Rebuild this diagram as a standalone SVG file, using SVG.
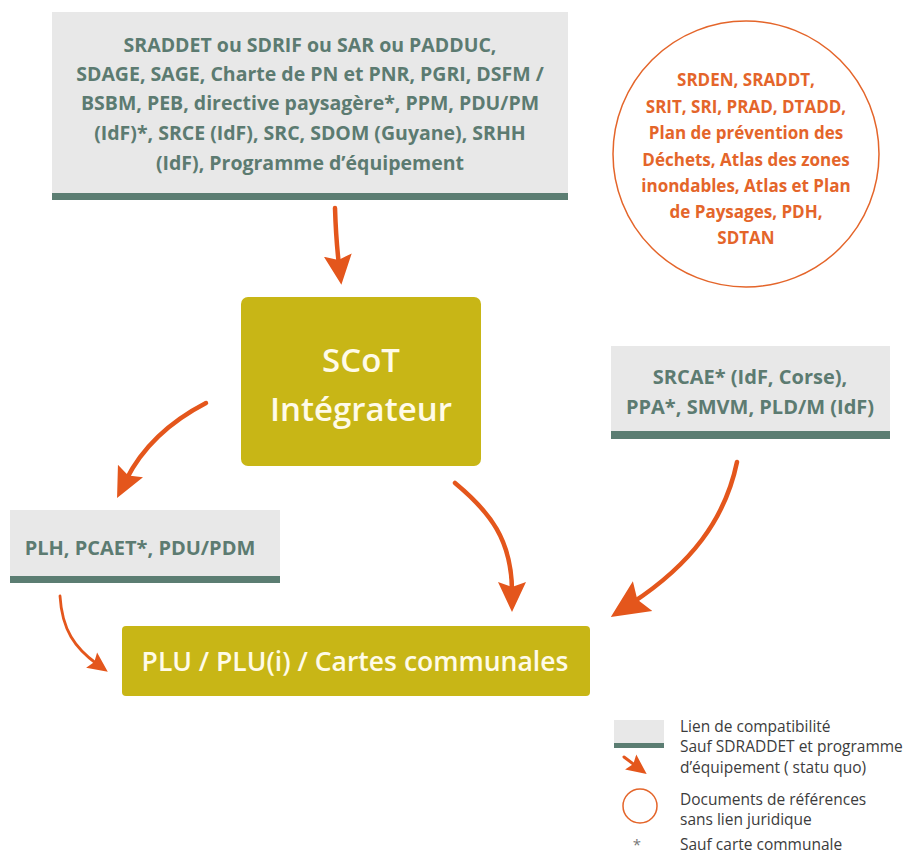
<svg xmlns="http://www.w3.org/2000/svg" width="911" height="859" viewBox="0 0 911 859">
<style>
.gbox{fill:#e8e8e8}
.bar{fill:#5b7d72}
.gt{font-family:"Open Sans","Liberation Sans",sans-serif;font-weight:700;fill:#5c7b71;text-anchor:middle}
.ot{font-family:"Open Sans","Liberation Sans",sans-serif;font-weight:700;fill:#e4652a;text-anchor:middle;font-size:17px}
.ybox{fill:#c8b616}
.wt{font-family:"Open Sans","Liberation Sans",sans-serif;font-weight:600;fill:#fffbe8;text-anchor:middle}
.arr{fill:none;stroke:#e4561c;stroke-width:4.5;stroke-linecap:round}
.lt{font-family:"Open Sans","Liberation Sans",sans-serif;font-size:15.5px;fill:#3c3c3c}
</style>
<defs>
<marker id="head" viewBox="0 0 30 30" refX="10" refY="15" markerWidth="30" markerHeight="30" markerUnits="userSpaceOnUse" orient="auto">
<path d="M0,1 L30,15 L0,29 L5,15 z" fill="#e4561c"/>
</marker>
<marker id="headL" viewBox="0 0 30 30" refX="10" refY="15" markerWidth="38" markerHeight="38" markerUnits="userSpaceOnUse" orient="auto">
<path d="M0,1 L30,15 L0,29 L5,15 z" fill="#e4561c"/>
</marker>
<marker id="headS" viewBox="0 0 30 30" refX="10" refY="15" markerWidth="20" markerHeight="20" markerUnits="userSpaceOnUse" orient="auto">
<path d="M0,1 L30,15 L0,29 L5,15 z" fill="#e4561c"/>
</marker>
</defs>

<g id="top-docs">
<rect class="gbox" x="52" y="12" width="516" height="182"/>
<rect class="bar" x="52" y="193" width="516" height="7"/>
<text class="gt" font-size="19.5" x="310" y="52">SRADDET ou SDRIF ou SAR ou PADDUC,</text>
<text class="gt" font-size="19.5" x="310" y="81">SDAGE, SAGE, Charte de PN et PNR, PGRI, DSFM /</text>
<text class="gt" font-size="19.5" x="310" y="110">BSBM, PEB, directive paysagère*, PPM, PDU/PM</text>
<text class="gt" font-size="19.5" x="310" y="140">(IdF)*, SRCE (IdF), SRC, SDOM (Guyane), SRHH</text>
<text class="gt" font-size="19.5" x="310" y="170">(IdF), Programme d’équipement</text>
</g>

<g id="reference-docs">
<circle cx="746" cy="154" r="133" fill="#ffffff" stroke="#e4652a" stroke-width="1.5"/>
<text class="ot" x="746" y="86">SRDEN, SRADDT,</text>
<text class="ot" x="746" y="113">SRIT, SRI, PRAD, DTADD,</text>
<text class="ot" x="746" y="139">Plan de prévention des</text>
<text class="ot" x="746" y="166">Déchets, Atlas des zones</text>
<text class="ot" x="746" y="192">inondables, Atlas et Plan</text>
<text class="ot" x="746" y="218">de Paysages, PDH,</text>
<text class="ot" x="746" y="244">SDTAN</text>
</g>

<g id="scot">
<rect class="ybox" x="241" y="297" width="240" height="169" rx="7"/>
<text class="wt" font-size="33" x="361" y="372">SCoT</text>
<text class="wt" font-size="33" x="361" y="421">Intégrateur</text>
</g>

<g id="srcae">
<rect class="gbox" x="611" y="346" width="279" height="86"/>
<rect class="bar" x="611" y="431" width="279" height="8"/>
<text class="gt" font-size="20" x="750" y="384">SRCAE* (IdF, Corse),</text>
<text class="gt" font-size="20" x="750" y="414">PPA*, SMVM, PLD/M (IdF)</text>
</g>

<g id="plh">
<rect class="gbox" x="10" y="510" width="270" height="67"/>
<rect class="bar" x="10" y="576" width="270" height="7"/>
<text class="gt" font-size="20" x="140" y="555">PLH, PCAET*, PDU/PDM</text>
</g>

<g id="plu">
<rect class="ybox" x="122" y="626" width="468" height="70" rx="4"/>
<text class="wt" font-size="26.5" x="355" y="671">PLU / PLU(i) / Cartes communales</text>
</g>

<g id="connectors">
<path class="arr" d="M335,208 Q336,240 339,265" marker-end="url(#head)"/>
<path class="arr" d="M206,403 Q150,432 126,480" marker-end="url(#head)"/>
<path class="arr" d="M455,483 C490,512 512,540 512,592" marker-end="url(#head)"/>
<path class="arr" d="M737,462 C725,520 690,565 632,603" marker-end="url(#headL)"/>
<path class="arr" style="stroke-width:2.8" d="M60,596 C62,630 75,648 97,664" marker-end="url(#headS)"/>
</g>

<g id="legend">
<rect class="gbox" x="614" y="720" width="50" height="23"/>
<rect class="bar" x="614" y="743" width="50" height="5"/>
<path class="arr" style="stroke-width:3" d="M624,757 L636,766" marker-end="url(#headS)"/>
<circle cx="640" cy="806" r="17" fill="none" stroke="#e4652a" stroke-width="1.5"/>
<text x="637" y="850" font-family="'Open Sans','Liberation Sans',sans-serif" font-size="15" fill="#777" text-anchor="middle">*</text>
<text class="lt" x="680" y="732">Lien de compatibilité</text>
<text class="lt" x="680" y="752">Sauf SDRADDET et programme</text>
<text class="lt" x="680" y="773">d’équipement ( statu quo)</text>
<text class="lt" x="680" y="805">Documents de références</text>
<text class="lt" x="680" y="825">sans lien juridique</text>
<text class="lt" x="680" y="850">Sauf carte communale</text>
</g>
</svg>
